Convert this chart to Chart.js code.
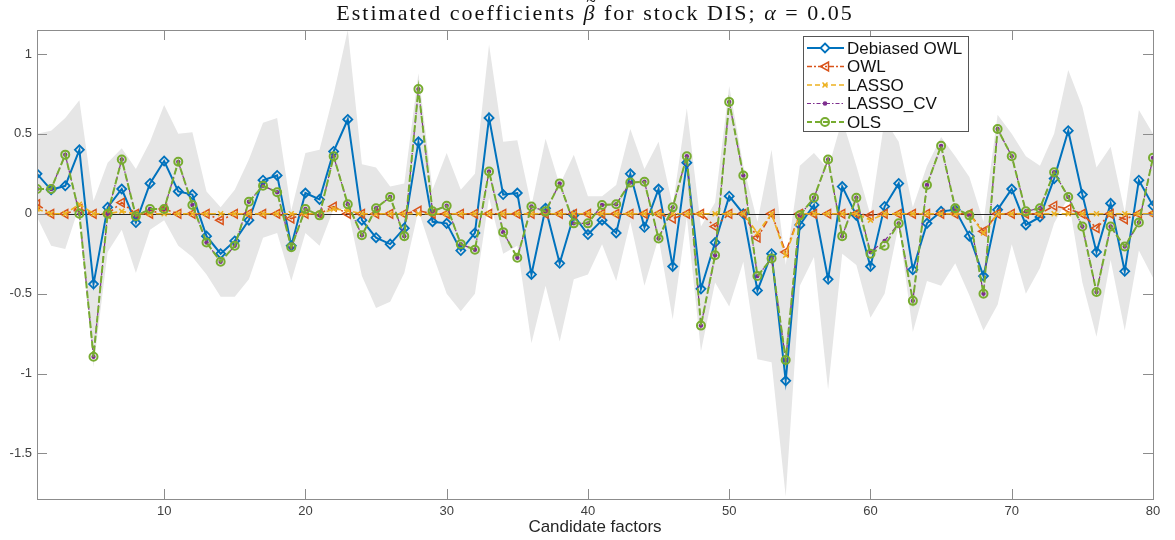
<!DOCTYPE html>
<html>
<head>
<meta charset="utf-8">
<script src="https://cdn.jsdelivr.net/npm/chart.js@4"></script>
<style>
  body { margin: 0; background: #fff; }
  canvas { display: block; }
</style>
</head>
<body>
<canvas id="coefChart" width="1175" height="540"></canvas>
<script>
// candidate factor index 1..80
const factors = Array.from({ length: 80 }, (_, i) => i + 1);

const debiasedOwl = [
  0.25, 0.15, 0.175, 0.40, -0.44, 0.04, 0.155, -0.055, 0.19, 0.33,
  0.14, 0.12, -0.14, -0.25, -0.17, -0.04, 0.21, 0.24, -0.20, 0.13,
  0.09, 0.39, 0.59, -0.04, -0.15, -0.19, -0.09, 0.45, -0.05, -0.06,
  -0.23, -0.12, 0.60, 0.12, 0.13, -0.38, 0.035, -0.31, -0.01, -0.13,
  -0.04, -0.12, 0.25, -0.085, 0.155, -0.33, 0.32, -0.47, -0.18, 0.11,
  0.0, -0.48, -0.25, -1.045, -0.07, 0.055, -0.41, 0.17, -0.01, -0.33,
  0.045, 0.19, -0.35, -0.06, 0.015, 0.025, -0.14, -0.39, 0.025, 0.155,
  -0.07, -0.02, 0.22, 0.52, 0.12, -0.24, 0.065, -0.36, 0.21, 0.05
];

const owl = [
  0.06, 0, 0, 0.03, 0, 0, 0.07, 0, 0, 0.03,
  0, 0, 0, -0.04, 0, 0, 0, 0, -0.03, 0,
  0, 0.045, 0, 0, 0, 0, 0, 0.02, 0, 0,
  0, 0, 0, 0, 0, 0, 0, 0, 0, 0,
  0, 0, 0, 0, 0, -0.03, 0, 0, -0.08, 0,
  0, -0.15, 0, -0.24, 0, 0, 0, 0, 0, -0.01,
  0, 0, 0, 0, 0, 0, 0, -0.11, 0, 0,
  0, 0, 0.05, 0.03, 0, -0.09, 0, -0.035, 0, 0
];

const lasso = [
  0.03, 0, 0, 0.06, 0, 0, 0.015, 0, 0, 0,
  0, 0, 0, 0, 0, 0, 0, 0, 0, 0,
  0, 0.03, 0.02, 0, 0, 0, 0, 0, 0, 0,
  0, 0, 0, 0, 0, 0, 0, 0, 0, 0,
  0, 0, 0, 0, 0, 0, 0, 0, 0, 0,
  0, -0.12, 0, -0.26, 0, 0, 0, 0, 0, -0.04,
  0, 0, 0, 0, 0, 0, 0, -0.12, 0, 0,
  0, 0, 0, 0, 0, 0, 0, 0, 0, 0
];

const lassoCv = [
  0.155, 0.155, 0.37, 0.0, -0.895, 0.0, 0.34, -0.015, 0.03, 0.03,
  0.325, 0.055, -0.18, -0.30, -0.20, 0.075, 0.175, 0.135, -0.21, 0.03,
  -0.01, 0.36, 0.06, -0.135, 0.035, 0.105, -0.14, 0.78, 0.015, 0.05,
  -0.19, -0.225, 0.265, -0.115, -0.275, 0.045, 0.015, 0.19, -0.06, -0.06,
  0.055, 0.06, 0.195, 0.20, -0.155, 0.04, 0.36, -0.70, -0.26, 0.70,
  0.24, -0.39, -0.28, -0.915, -0.01, 0.10, 0.34, -0.14, 0.10, -0.24,
  -0.17, -0.06, -0.545, 0.18, 0.425, 0.035, -0.01, -0.50, 0.53, 0.36,
  0.015, 0.035, 0.26, 0.105, -0.08, -0.49, -0.08, -0.205, -0.055, 0.35
];

const ols = [
  0.155, 0.155, 0.37, 0.0, -0.895, 0.0, 0.34, -0.015, 0.03, 0.03,
  0.325, 0.055, -0.18, -0.30, -0.20, 0.075, 0.175, 0.135, -0.21, 0.03,
  -0.01, 0.36, 0.06, -0.135, 0.035, 0.105, -0.14, 0.78, 0.015, 0.05,
  -0.19, -0.225, 0.265, -0.115, -0.275, 0.045, 0.015, 0.19, -0.06, -0.06,
  0.055, 0.06, 0.195, 0.20, -0.155, 0.04, 0.36, -0.70, -0.26, 0.70,
  0.24, -0.39, -0.28, -0.915, -0.01, 0.10, 0.34, -0.14, 0.10, -0.25,
  -0.20, -0.06, -0.545, 0.18, 0.425, 0.035, -0.01, -0.50, 0.53, 0.36,
  0.015, 0.035, 0.26, 0.105, -0.08, -0.49, -0.08, -0.205, -0.055, 0.35
];

// confidence band around the debiased estimate
const bandHigh = [
  0.50, 0.52, 0.60, 0.71, 0.08, 0.32, 0.41, 0.28, 0.45, 0.68,
  0.50, 0.51, 0.14, 0.04, 0.15, 0.34, 0.57, 0.60, 0.02, 0.38,
  0.40, 0.75, 1.15, 0.31, 0.29, 0.17, 0.19, 0.88, 0.15, 0.38,
  0.15, 0.25, 1.06, 0.45, 0.46, 0.05, 0.47, 0.18, 0.37, 0.11,
  0.11, 0.18, 0.53, 0.28, 0.45, 0.05, 0.66, -0.08, 0.07, 0.80,
  0.30, -0.05, 0.40, -0.32, 0.30, 0.38, 0.28, 0.59, 0.30, -0.01,
  0.59, 0.45, 0.04, 0.30, 0.48, 0.36, 0.23, -0.05, 0.62, 0.50,
  0.36, 0.30, 0.50, 0.90, 0.67, 0.29, 0.42, 0.01, 0.65, 0.50
];

const bandLow = [
  -0.02, -0.20, -0.22, 0.05, -0.96, -0.24, -0.10, -0.37, -0.10, -0.04,
  -0.20, -0.27, -0.38, -0.52, -0.52, -0.41, -0.15, -0.12, -0.42, -0.12,
  -0.20, 0.03, 0.03, -0.39, -0.59, -0.55, -0.37, 0.02, -0.25, -0.50,
  -0.61, -0.50, 0.10, -0.25, -0.20, -0.81, -0.45, -0.80, -0.41, -0.38,
  -0.19, -0.42, -0.05, -0.45, -0.15, -0.66, -0.02, -0.86, -0.43, -0.58,
  -0.30, -0.91, -0.93, -1.77, -0.45, -0.27, -1.10, -0.25, -0.32, -0.65,
  -0.50, -0.07, -0.74, -0.42, -0.45, -0.31, -0.51, -0.73, -0.57, -0.19,
  -0.50, -0.34, -0.06, 0.10, -0.43, -0.77, -0.29, -0.73, -0.23, -0.40
];

const xTicks = [10, 20, 30, 40, 50, 60, 70, 80];
const yTicks = [-1.5, -1, -0.5, 0, 0.5, 1];

const BLUE = '#0072BD', ORANGE = '#D95319', YELLOW = '#EDB120',
      PURPLE = '#7E2F8E', GREEN = '#77AC30';

const pts = arr => factors.map((f, i) => ({ x: f, y: arr[i] }));

const series = [
  { label: 'Debiased OWL', data: pts(debiasedOwl), borderColor: BLUE, borderWidth: 2,
    pointStyle: 'rectRot', pointRadius: 4.5, pointBorderWidth: 1.8,
    pointBorderColor: BLUE, pointBackgroundColor: 'rgba(0,0,0,0)', order: 5 },
  { label: 'OWL', data: pts(owl), borderColor: ORANGE, borderWidth: 1.6, borderDash: [7, 3, 2, 3],
    pointStyle: 'triangle', pointRotation: -90, pointRadius: 5, pointBorderWidth: 1.5,
    pointBorderColor: ORANGE, pointBackgroundColor: 'rgba(0,0,0,0)', order: 4 },
  { label: 'LASSO', data: pts(lasso), borderColor: YELLOW, borderWidth: 1.6, borderDash: [6, 3],
    pointStyle: 'crossRot', pointRadius: 3.5, pointBorderWidth: 1.5,
    pointBorderColor: YELLOW, order: 3 },
  { label: 'LASSO_CV', data: pts(lassoCv), borderColor: PURPLE, borderWidth: 1.2, borderDash: [6, 3, 1.5, 3],
    pointStyle: 'circle', pointRadius: 2.2, pointBorderWidth: 0,
    pointBackgroundColor: PURPLE, order: 2 },
  { label: 'OLS', data: pts(ols), borderColor: GREEN, borderWidth: 2, borderDash: [7, 3],
    pointStyle: 'circle', pointRadius: 4, pointBorderWidth: 2,
    pointBorderColor: GREEN, pointBackgroundColor: 'rgba(0,0,0,0)', order: 1 }
];

const band = [
  { label: 'bandLow', data: pts(bandLow), borderWidth: 0, pointRadius: 0, fill: false, order: 10 },
  { label: 'bandHigh', data: pts(bandHigh), borderWidth: 0, pointRadius: 0,
    fill: '-1', backgroundColor: '#e6e6e6', order: 10 }
];

// small marker painters for the legend samples
function marker(ctx, kind, x, y, color) {
  ctx.save();
  ctx.strokeStyle = color;
  ctx.fillStyle = color;
  ctx.setLineDash([]);
  ctx.beginPath();
  if (kind === 'diamond') {
    ctx.lineWidth = 1.8;
    ctx.moveTo(x, y - 4.5); ctx.lineTo(x + 4.5, y); ctx.lineTo(x, y + 4.5); ctx.lineTo(x - 4.5, y);
    ctx.closePath(); ctx.fillStyle = '#fff'; ctx.fill(); ctx.stroke();
  } else if (kind === 'tri') {
    ctx.lineWidth = 1.5;
    ctx.moveTo(x - 4.5, y); ctx.lineTo(x + 3.5, y - 4.5); ctx.lineTo(x + 3.5, y + 4.5);
    ctx.closePath(); ctx.stroke();
  } else if (kind === 'cross') {
    ctx.lineWidth = 1.5;
    ctx.moveTo(x - 2.5, y - 2.5); ctx.lineTo(x + 2.5, y + 2.5);
    ctx.moveTo(x + 2.5, y - 2.5); ctx.lineTo(x - 2.5, y + 2.5);
    ctx.stroke();
  } else if (kind === 'dot') {
    ctx.arc(x, y, 2.3, 0, Math.PI * 2); ctx.fill();
  } else if (kind === 'ring') {
    ctx.lineWidth = 2;
    ctx.arc(x, y, 4, 0, Math.PI * 2); ctx.stroke();
  }
  ctx.restore();
}

const legendRows = [
  { text: 'Debiased OWL', color: BLUE, dash: [], width: 2, kind: 'diamond' },
  { text: 'OWL', color: ORANGE, dash: [5, 2, 2, 2], width: 1.6, kind: 'tri' },
  { text: 'LASSO', color: YELLOW, dash: [5, 3], width: 1.6, kind: 'cross' },
  { text: 'LASSO_CV', color: PURPLE, dash: [4, 2, 1.5, 2], width: 1.2, kind: 'dot' },
  { text: 'OLS', color: GREEN, dash: [5, 3], width: 2, kind: 'ring' }
];

const decor = {
  id: 'decor',
  afterDatasetDraw(chart, args) {
    // zero reference line sits right on top of the shaded band
    if (chart.data.datasets[args.index].label !== 'bandLow') return;
    const { ctx, chartArea: a, scales: { y } } = chart;
    const y0 = Math.round(y.getPixelForValue(0)) + 0.5;
    ctx.save();
    ctx.strokeStyle = '#262626';
    ctx.lineWidth = 1;
    ctx.beginPath(); ctx.moveTo(a.left, y0); ctx.lineTo(a.right, y0); ctx.stroke();
    ctx.restore();
  },
  afterDatasetsDraw(chart) {
    const { ctx, chartArea: a, scales: { x, y } } = chart;
    ctx.save();
    ctx.strokeStyle = '#8c8c8c';
    ctx.lineWidth = 1;
    ctx.strokeRect(a.left + 0.5, a.top + 0.5, a.right - a.left, a.bottom - a.top);
    const t = 10;
    ctx.beginPath();
    xTicks.forEach(v => {
      const px = Math.round(x.getPixelForValue(v)) + 0.5;
      ctx.moveTo(px, a.bottom); ctx.lineTo(px, a.bottom - t);
      ctx.moveTo(px, a.top); ctx.lineTo(px, a.top + t);
    });
    yTicks.forEach(v => {
      const py = Math.round(y.getPixelForValue(v)) + 0.5;
      ctx.moveTo(a.left, py); ctx.lineTo(a.left + t, py);
      ctx.moveTo(a.right, py); ctx.lineTo(a.right - t, py);
    });
    ctx.stroke();
    ctx.restore();
  },
  afterDraw(chart) {
    const { ctx, chartArea: a } = chart;
    const cx = (a.left + a.right) / 2;

    // title, with the math symbols in italic and a tilde over beta
    const parts = [
      ['Estimated coefficients ', false], ['\u03B2', true, true],
      [' for stock DIS; ', false], ['\u03B1', true], [' = 0.05', false]
    ];
    ctx.save();
    ctx.fillStyle = '#111';
    ctx.textBaseline = 'alphabetic';
    ctx.letterSpacing = '2px';
    const fontOf = it => (it ? 'italic ' : '') + '22px "Liberation Serif", serif';
    let total = 0;
    parts.forEach(([s, it]) => { ctx.font = fontOf(it); total += ctx.measureText(s).width; });
    let tx = cx - total / 2;
    const base = 20;
    parts.forEach(([s, it, tilde]) => {
      ctx.font = fontOf(it);
      const w = ctx.measureText(s).width;
      ctx.fillText(s, tx, base);
      if (tilde) {
        ctx.save();
        ctx.letterSpacing = '0px';
        ctx.font = '18px "Liberation Serif", serif';
        ctx.textAlign = 'center';
        ctx.fillText('~', tx + w / 2 + 1, base - 13);
        ctx.restore();
      }
      tx += w;
    });
    ctx.restore();

    // x axis title
    ctx.save();
    ctx.fillStyle = '#262626';
    ctx.font = '17px "Liberation Sans", Arial, sans-serif';
    ctx.textAlign = 'center';
    ctx.textBaseline = 'middle';
    ctx.fillText('Candidate factors', cx, 527);
    ctx.restore();

    // legend box
    const bx = 803, by = 36, bw = 165, bh = 95, rowH = 18.5;
    ctx.save();
    ctx.fillStyle = '#fff';
    ctx.fillRect(bx, by, bw, bh);
    ctx.strokeStyle = '#555';
    ctx.lineWidth = 1;
    ctx.strokeRect(bx + 0.5, by + 0.5, bw, bh);
    ctx.font = '17px "Liberation Sans", Arial, sans-serif';
    ctx.textBaseline = 'middle';
    legendRows.forEach((r, i) => {
      const ry = by + 12 + i * rowH;
      ctx.strokeStyle = r.color;
      ctx.lineWidth = r.width;
      ctx.setLineDash(r.dash);
      ctx.beginPath(); ctx.moveTo(bx + 4, ry); ctx.lineTo(bx + 41, ry); ctx.stroke();
      ctx.setLineDash([]);
      marker(ctx, r.kind, bx + 22, ry, r.color);
      ctx.fillStyle = '#111';
      ctx.fillText(r.text, bx + 44, ry + 1);
    });
    ctx.restore();
  }
};

new Chart(document.getElementById('coefChart'), {
  type: 'line',
  data: { datasets: [...series, ...band] },
  options: {
    responsive: false,
    animation: false,
    events: [],
    layout: { padding: { top: 30, right: 22, left: 0, bottom: 0 } },
    elements: { line: { tension: 0 } },
    plugins: {
      legend: { display: false },
      title: { display: false },
      tooltip: { enabled: false }
    },
    scales: {
      x: {
        type: 'linear',
        min: 1,
        max: 80,
        afterBuildTicks: s => { s.ticks = xTicks.map(v => ({ value: v })); },
        afterFit: s => { s.height = 41; },
        grid: { display: false, drawTicks: false },
        border: { display: false },
        ticks: {
          padding: 5,
          maxRotation: 0,
          autoSkip: false,
          color: '#404040',
          font: { family: '"Liberation Sans", Arial, sans-serif', size: 13 }
        }
      },
      y: {
        min: -1.785,
        max: 1.15,
        afterBuildTicks: s => { s.ticks = yTicks.map(v => ({ value: v })); },
        afterFit: s => { s.width = 37; },
        grid: { display: false, drawTicks: false },
        border: { display: false },
        ticks: {
          padding: 5,
          color: '#404040',
          font: { family: '"Liberation Sans", Arial, sans-serif', size: 13 },
          callback: v => String(v)
        }
      }
    }
  },
  plugins: [decor]
});
</script>
</body>
</html>
